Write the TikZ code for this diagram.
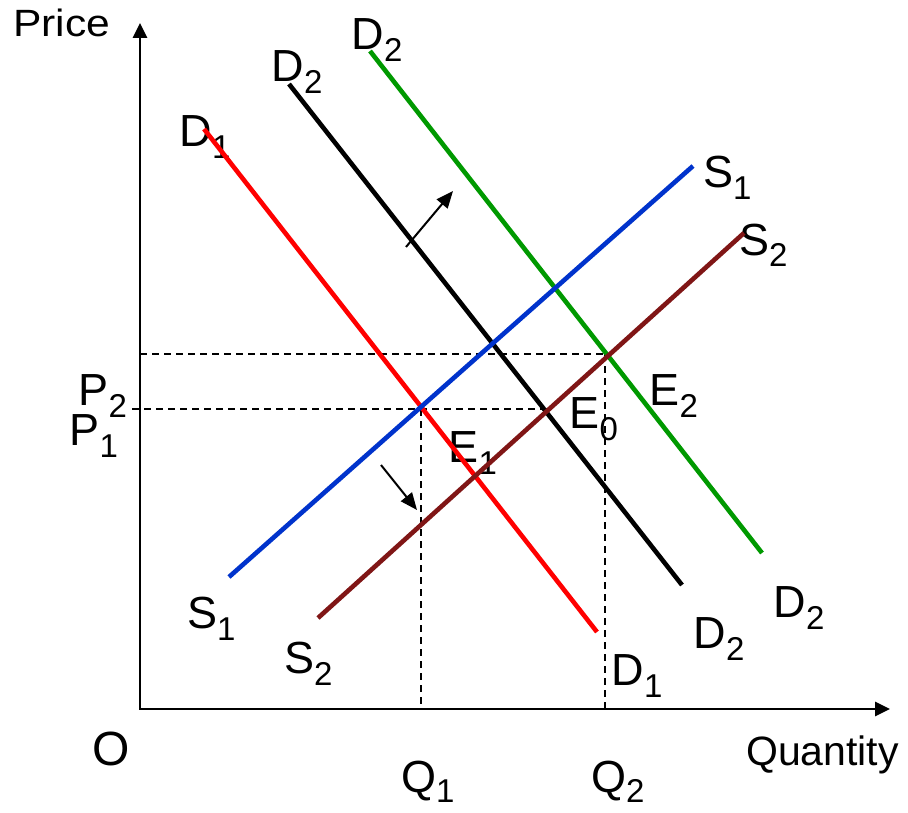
\documentclass[tikz,border=0pt]{standalone}
\usepackage{fontspec}
\setmainfont{Liberation Sans}
\usetikzlibrary{arrows.meta}
\newcommand\lsub[1]{\raisebox{-12pt}{\fontsize{33}{33}\selectfont #1}}
\begin{document}
\begin{tikzpicture}[x=1pt,y=-1pt,
  lbl/.style={inner sep=0pt, anchor=base west, font=\fontsize{45}{47}\selectfont},
  curve/.style={line width=4.6pt},
  dashline/.style={dash pattern=on 7pt off 5pt, line width=1.5pt},
  axis/.style={line width=2.6pt, {Triangle[length=15pt,width=14pt]}-{Triangle[length=15pt,width=14pt]}},
  shiftarrow/.style={line width=2pt, -{Triangle[length=17pt,width=14pt]}}]
\useasboundingbox (0,0) rectangle (908,813);
\fill[white] (0,0) rectangle (908,813);
\definecolor{cred}{RGB}{255,0,0}
\definecolor{cgreen}{RGB}{0,153,0}
\definecolor{cblue}{RGB}{0,51,204}
\definecolor{cbrown}{RGB}{128,22,22}
% coordinates
\coordinate (O) at (140,709);
\coordinate (ytip) at (140,23);
\coordinate (xtip) at (890,709);
\coordinate (d1a) at (204,129); \coordinate (d1b) at (597,632);
\coordinate (d2a) at (289,84);  \coordinate (d2b) at (682,585);
\coordinate (d3a) at (370,51);  \coordinate (d3b) at (762,553);
\coordinate (s1a) at (229,577); \coordinate (s1b) at (693,166);
\coordinate (s2a) at (318,618); \coordinate (s2b) at (744,233);
\coordinate (p1l) at (132,409); \coordinate (E0) at (547,409);
\coordinate (p2l) at (140,354); \coordinate (E2) at (607,354);
\coordinate (E1) at (421,409);  \coordinate (q1) at (421,709);
\coordinate (E2v) at (605,354); \coordinate (q2) at (605,709);
\coordinate (a1s) at (406,247); \coordinate (a1e) at (453,191);
\coordinate (a2s) at (381,465); \coordinate (a2e) at (417,510);
% labels
\node[lbl, font=\fontsize{38}{40}\selectfont] (price) at (13,37) {\scalebox{1.12}[1]{Price}};
\node[lbl, font=\fontsize{48}{50}\selectfont] (olbl) at (92,765) {O};
\node[lbl, font=\fontsize{41}{43}\selectfont] (quant) at (746,765) {Quantity};
\node[lbl] (ld1t) at (179.5,147) {D\lsub{1}};
\node[lbl] (ld2t) at (271.5,82) {D\lsub{2}};
\node[lbl] (ld3t) at (351.5,50) {D\lsub{2}};
\node[lbl] (ls1r) at (703,188) {S\lsub{1}};
\node[lbl] (ls2r) at (739,255) {S\lsub{2}};
\node[lbl] (lp2) at (78.5,405) {P\lsub{2}};
\node[lbl] (lp1) at (69.5,445) {P\lsub{1}};
\node[lbl] (le1) at (448.5,462) {E\lsub{1}};
\node[lbl] (le0) at (569.5,428) {E\lsub{0}};
\node[lbl] (le2) at (649.5,405) {E\lsub{2}};
\node[lbl] (ls1b) at (187,628) {S\lsub{1}};
\node[lbl] (ls2b) at (284,673) {S\lsub{2}};
\node[lbl] (lq1) at (401,792) {Q\raisebox{-10pt}{\fontsize{33}{33}\selectfont 1}};
\node[lbl] (lq2) at (591,792) {Q\raisebox{-10pt}{\fontsize{33}{33}\selectfont 2}};
\node[lbl] (ld1b) at (611.5,685) {D\lsub{1}};
\node[lbl] (ld2b) at (693.5,648) {D\lsub{2}};
\node[lbl] (ld3b) at (773.5,617) {D\lsub{2}};
% dashed guides
\draw[dashline] (p1l) -- (E0);
\draw[dashline] (p2l) -- (E2);
\draw[dashline] (E1) -- (q1);
\draw[dashline] (E2v) -- (q2);
% axes
\draw[axis] (ytip) -- (O) -- (xtip);
% curves
\draw[curve, cred] (d1a) -- (d1b);
\draw[curve, black] (d2a) -- (d2b);
\draw[curve, cgreen] (d3a) -- (d3b);
\draw[curve, cblue] (s1a) -- (s1b);
\draw[curve, cbrown] (s2a) -- (s2b);
% shift arrows
\draw[shiftarrow] (a1s) -- (a1e);
\draw[shiftarrow] (a2s) -- (a2e);
\end{tikzpicture}
\end{document}
